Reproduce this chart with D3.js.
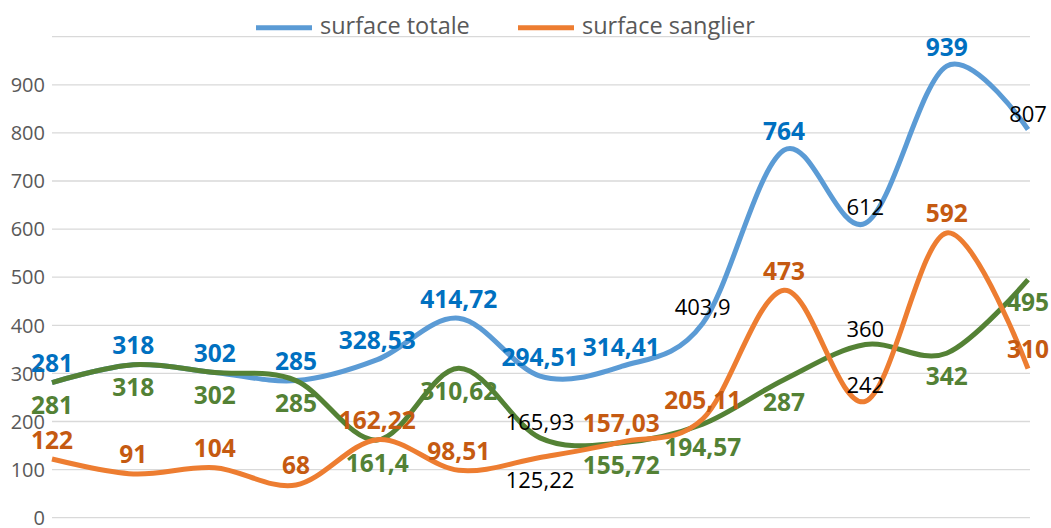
<!DOCTYPE html>
<html>
<head>
<meta charset="utf-8">
<script src="https://cdn.jsdelivr.net/npm/d3@7"></script>
<style>
  html, body { margin: 0; padding: 0; background: #fff; }
  svg { display: block; font-family: "Open Sans", sans-serif; }
</style>
</head>
<body>
<div id="chart"></div>
<script>
// 13 periods, no visible labels on the x axis
const periods = d3.range(1, 14);
const yTicks = [0, 100, 200, 300, 400, 500, 600, 700, 800, 900, 1000];

const surfaceTotale   = [281, 318, 302, 285, 328.53, 414.72, 294.51, 314.41, 403.9, 764, 612, 939, 807];
const surfaceSanglier = [122, 91, 104, 68, 162.22, 98.51, 125.22, 157.03, 205.11, 473, 242, 592, 310];
const surfaceAutre    = [281, 318, 302, 285, 161.4, 310.62, 165.93, 155.72, 194.57, 287, 360, 342, 495];

// labels written in plain black instead of the series colour
const plainTotale   = [8, 10, 12];
const plainSanglier = [6, 10];
const plainAutre    = [6, 10];
// exceptions to the usual label side
const autreAbove    = [6, 10];
const sanglierBelow = [6];

const width = 1051;
const height = 528;
const marginLeft = 52;
const marginRight = 23;
const plotTop = 36.7;
const plotBottom = 517.7;

const x = d3.scalePoint(periods, [marginLeft, width - marginRight]);
const y = d3.scaleLinear([0, 1000], [plotBottom, plotTop]);

const svg = d3.select("#chart").append("svg")
    .attr("width", width)
    .attr("height", height)
    .attr("viewBox", [0, 0, width, height]);

svg.append("rect").attr("width", width).attr("height", height).attr("fill", "#fff");

// grid lines
svg.append("g")
  .selectAll("line")
  .data(yTicks)
  .join("line")
    .attr("x1", marginLeft)
    .attr("x2", width - marginRight + 2)
    .attr("y1", d => y(d))
    .attr("y2", d => y(d))
    .attr("stroke", "#d9d9d9")
    .attr("stroke-width", 1.3);

// y axis labels (top one is hidden in the original)
svg.append("g")
  .selectAll("text")
  .data(yTicks.filter(d => d < 1000))
  .join("text")
    .attr("x", 45)
    .attr("y", d => y(d))
    .attr("dy", "0.36em")
    .attr("text-anchor", "end")
    .attr("font-size", 20)
    .attr("fill", "#595959")
    .text(d => d);

const line = d3.line()
    .x((d, i) => x(periods[i]))
    .y(d => y(d))
    .curve(d3.curveCardinal.tension(0));

const series = [
  { key: "totale",   values: surfaceTotale,   stroke: "#5b9bd5", label: "#0070c0", plain: plainTotale,   above: () => true },
  { key: "autre",    values: surfaceAutre,    stroke: "#548235", label: "#538135", plain: plainAutre,    above: i => autreAbove.includes(i) },
  { key: "sanglier", values: surfaceSanglier, stroke: "#ed7d31", label: "#c55a11", plain: plainSanglier, above: i => !sanglierBelow.includes(i) }
];

series.forEach(s => {
  svg.append("path")
      .attr("fill", "none")
      .attr("stroke", s.stroke)
      .attr("stroke-width", 5)
      .attr("d", line(s.values));
});

const fmt = v => String(v).replace(".", ",");

series.forEach(s => {
  svg.append("g")
    .selectAll("text")
    .data(s.values)
    .join("text")
      .attr("x", (d, i) => x(periods[i]))
      .attr("y", (d, i) => {
        const plain = s.plain.includes(i);
        if (s.above(i)) return y(d) - (plain ? 8 : 10.5);
        return y(d) + (plain ? 31 : 31.5);
      })
      .attr("text-anchor", "middle")
      .attr("font-size", (d, i) => s.plain.includes(i) ? 22 : 24.5)
      .attr("font-weight", (d, i) => s.plain.includes(i) ? 400 : 700)
      .attr("fill", (d, i) => s.plain.includes(i) ? "#000" : s.label)
      .text(d => fmt(d));
});

// legend
const legend = [
  { name: "surface totale",   color: "#5b9bd5", x: 256 },
  { name: "surface sanglier", color: "#ed7d31", x: 518 }
];
const lg = svg.append("g");
legend.forEach(l => {
  lg.append("line")
      .attr("x1", l.x).attr("x2", l.x + 56)
      .attr("y1", 27.7).attr("y2", 27.7)
      .attr("stroke", l.color)
      .attr("stroke-width", 5);
  lg.append("text")
      .attr("x", l.x + 64)
      .attr("y", 34)
      .attr("font-size", 23.5)
      .attr("fill", "#595959")
      .text(l.name);
});
</script>
</body>
</html>
